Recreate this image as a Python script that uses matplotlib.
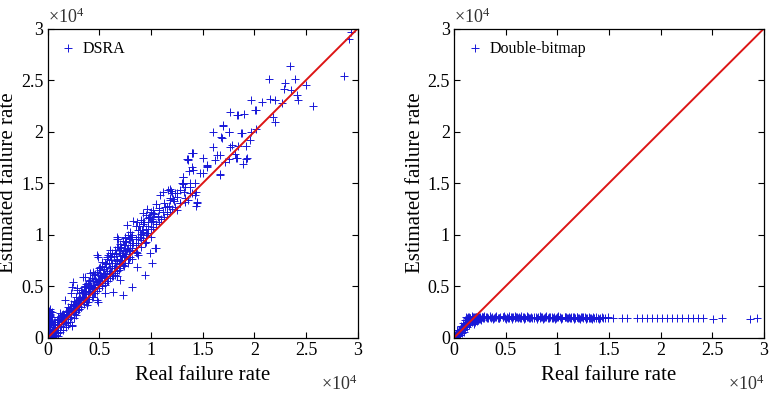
import matplotlib
matplotlib.use("Agg")
import matplotlib.pyplot as plt
from matplotlib.ticker import FuncFormatter

plt.rcParams['font.family'] = ['Liberation Serif', 'DejaVu Serif']
plt.rcParams['mathtext.fontset'] = 'custom'
plt.rcParams['mathtext.rm'] = 'Liberation Serif'
plt.rcParams['mathtext.it'] = 'Liberation Serif:italic'

SCALE = 1e4  # values below are in units of 10^4

# ---- DSRA panel (real, estimated), units of 1e4 ----
dsra_real = [
    2.935, 2.919, 2.871, 2.345, 2.139, 2.297, 2.390, 2.290, 2.355, 2.497, 2.413, 2.423, 2.571, 2.265,
    2.203, 2.152, 1.965, 2.010, 2.016, 1.765, 1.829, 1.903, 1.697, 1.755, 1.874, 1.965, 2.184, 2.203,
    1.597, 1.677, 1.603, 1.765, 1.842, 1.916, 1.668, 1.619, 1.716, 1.826, 1.752, 1.919, 1.890, 1.810,
    1.394, 1.352, 1.400, 1.506, 1.545, 1.503, 1.665, 1.368, 1.306, 1.381, 1.439, 1.397, 1.445, 1.435,
    1.323, 1.190, 1.119, 1.248, 1.210, 1.329, 1.355, 1.152, 1.081, 1.048, 0.965, 0.926, 0.829, 1.006,
    0.926, 0.894, 0.958, 1.048, 0.752, 0.668, 0.684, 0.752, 0.603, 0.571, 0.484, 0.668, 0.813, 0.861,
    0.506, 0.410, 0.345, 0.474, 0.668, 0.232, 0.223, 0.281, 0.345, 0.394, 0.232, 0.377, 0.248, 0.119,
    0.087, 0.055, 0.023,
    0.668, 0.748, 0.813, 0.894, 0.942, 0.990, 0.587, 0.474, 0.522, 0.619, 0.716, 0.780, 0.877, 0.861,
    0.442, 0.361, 0.539, 0.652, 0.700, 0.555, 0.635, 0.248, 0.281, 0.394, 0.458, 0.329, 0.168, 0.216,
    0.297, 0.394, 0.490, 0.555, 0.135, 0.232, 0.103, 0.071, 0.039, 0.022, 0.732, 0.813, 0.942, 1.006,
    1.394, 1.361, 1.539, 1.474, 1.426, 1.313, 1.297, 1.377, 1.168, 1.248, 1.184, 1.087, 1.136, 1.023,
    0.990, 0.861, 0.910, 0.765, 0.797, 0.684, 0.700, 0.603, 1.039, 1.281, 1.442, 1.426, 1.200, 1.071,
    0.926, 0.829, 1.248,
    2.071, 1.845, 2.016, 1.700, 1.758, 1.877, 1.684, 1.958, 1.781, 1.403, 1.361, 1.636, 1.829, 1.926,
    1.539, 1.410, 1.668, 1.313, 1.313, 1.184,
    0.005, 0.010, 0.005, 0.015, 0.005, 0.010, 0.020, 0.005, 0.012, 0.020, 0.005, 0.015, 0.030, 0.005,
    0.020, 0.040, 0.060, 0.080, 0.100, 0.120, 0.050, 0.070, 0.150, 0.180, 0.200, 0.030, 0.040, 0.060,
    0.090, 0.130, 0.160, 0.100, 0.140, 0.025, 0.035, 0.045,
    0.25, 0.27, 0.30, 0.32, 0.35, 0.37, 0.40, 0.42, 0.45, 0.47, 0.50, 0.52, 0.55, 0.57, 0.60, 0.62,
    0.65, 0.67, 0.70, 0.72, 0.75, 0.77, 0.80, 0.82, 0.85, 0.87, 0.90, 0.92, 0.95, 0.97, 1.00, 1.02,
    1.05, 1.07, 1.10, 1.12, 1.15, 1.17, 1.20, 1.22, 0.30, 0.38, 0.44, 0.53, 0.58, 0.63, 0.69, 0.74,
    0.79, 0.85, 0.18, 0.20, 0.22, 0.15, 0.26, 0.33, 0.36, 0.41, 0.46, 0.51, 0.56, 0.61, 0.66, 0.71,
    0.76, 0.81, 0.88, 0.93, 0.98, 1.03,
    # dense band, read as low / middle / high triplets
    0.05, 0.05, 0.05, 0.075, 0.075, 0.075, 0.10, 0.10, 0.10, 0.125, 0.125, 0.125,
    0.15, 0.15, 0.15, 0.175, 0.175, 0.175, 0.20, 0.20, 0.20, 0.225, 0.225, 0.225,
    0.25, 0.25, 0.25, 0.275, 0.275, 0.275, 0.30, 0.30, 0.30, 0.325, 0.325, 0.325,
    0.35, 0.35, 0.35, 0.375, 0.375, 0.375, 0.40, 0.40, 0.40, 0.425, 0.425, 0.425,
    0.45, 0.45, 0.45, 0.475, 0.475, 0.475, 0.50, 0.50, 0.50, 0.525, 0.525, 0.525,
    0.55, 0.55, 0.55, 0.575, 0.575, 0.575, 0.60, 0.60, 0.60, 0.625, 0.625, 0.625,
    0.65, 0.65, 0.65, 0.675, 0.675, 0.675, 0.70, 0.70, 0.70, 0.725, 0.725, 0.725,
    0.75, 0.75, 0.75, 0.775, 0.775, 0.775, 0.80, 0.80, 0.80, 0.85, 0.85, 0.85,
    0.90, 0.90, 0.90, 0.95, 0.95, 0.95, 1.00, 1.00, 1.00,
    # column at the origin
    0.003, 0.010, 0.018, 0.025, 0.003, 0.010, 0.018, 0.025,
    0.003, 0.010, 0.018, 0.025, 0.003, 0.010, 0.018, 0.025,
    0.003, 0.010, 0.018, 0.025, 0.003, 0.010, 0.018, 0.025,
    0.003, 0.010, 0.018, 0.025, 0.003, 0.010, 0.018, 0.025,
    # below the diagonal near the origin
    0.05, 0.08, 0.10, 0.12, 0.15, 0.18, 0.07, 0.20, 0.22, 0.25, 0.27,
    # dense band, second pass (pairs)
    0.06, 0.06, 0.09, 0.09, 0.11, 0.11, 0.14, 0.14, 0.16, 0.16, 0.19, 0.19,
    0.21, 0.21, 0.24, 0.24, 0.26, 0.26, 0.29, 0.29, 0.31, 0.31, 0.34, 0.34,
    0.36, 0.36, 0.39, 0.39, 0.41, 0.41, 0.44, 0.44, 0.46, 0.46, 0.49, 0.49,
    0.51, 0.51, 0.54, 0.54, 0.56, 0.56, 0.59, 0.59, 0.61, 0.61, 0.64, 0.64,
    0.66, 0.66, 0.69, 0.69, 0.71, 0.71, 0.74, 0.74, 0.76, 0.76, 0.79, 0.79,
    0.82, 0.82, 0.87, 0.87, 0.92, 0.92, 0.97, 0.97, 1.02, 1.02, 1.08, 1.08,
    1.13, 1.13, 1.18, 1.18, 1.23, 1.23, 1.28, 1.28, 1.33, 1.33, 1.38, 1.38,
]
dsra_est = [
    2.962, 2.903, 2.541, 2.638, 2.506, 2.467, 2.506, 2.418, 2.402, 2.451, 2.354, 2.305, 2.247, 2.279,
    2.305, 2.312, 2.305, 2.208, 2.027, 2.189, 2.160, 2.173, 2.059, 2.001, 1.982, 1.995, 2.144, 2.095,
    2.001, 1.950, 1.853, 1.853, 1.862, 1.859, 1.772, 1.720, 1.710, 1.746, 1.736, 1.736, 1.688, 1.785,
    1.788, 1.730, 1.659, 1.743, 1.668, 1.600, 1.587, 1.617, 1.487, 1.465, 1.410, 1.406, 1.322, 1.280,
    1.410, 1.426, 1.410, 1.368, 1.342, 1.319, 1.335, 1.271, 1.238, 1.296, 1.254, 1.206, 1.135, 1.157,
    1.125, 1.044, 1.012, 0.867, 0.980, 0.963, 0.883, 0.850, 0.850, 0.786, 0.786, 0.753, 0.769, 0.818,
    0.689, 0.624, 0.592, 0.365, 0.598, 0.495, 0.430, 0.462, 0.430, 0.527, 0.113, 0.317, 0.268, 0.236,
    0.171, 0.107, 0.074,
    0.980, 0.899, 0.850, 0.980, 0.915, 0.818, 0.802, 0.802, 0.737, 0.721, 0.754, 0.721, 0.802, 0.689,
    0.641, 0.592, 0.624, 0.608, 0.560, 0.512, 0.447, 0.544, 0.479, 0.479, 0.430, 0.398, 0.365, 0.285,
    0.268, 0.349, 0.349, 0.430, 0.220, 0.124, 0.171, 0.124, 0.074, 0.026, 0.414, 0.495, 0.608, 0.721,
    1.794, 1.723, 1.675, 1.594, 1.497, 1.562, 1.497, 1.465, 1.432, 1.400, 1.335, 1.384, 1.271, 1.238,
    1.174, 1.125, 1.044, 1.093, 0.980, 0.963, 0.850, 0.818, 0.867, 1.303, 1.303, 1.384, 1.400, 1.174,
    0.996, 0.915, 1.238,
    2.289, 2.157, 2.205, 2.063, 1.998, 1.982, 1.934, 1.917, 1.869, 1.795, 1.731, 1.772, 1.740, 1.740,
    1.659, 1.627, 1.578, 1.562, 1.497, 1.448,
    0.280, 0.260, 0.240, 0.220, 0.200, 0.180, 0.160, 0.140, 0.120, 0.100, 0.080, 0.060, 0.050, 0.040,
    0.020, 0.010, 0.030, 0.020, 0.050, 0.080, 0.000, 0.060, 0.100, 0.140, 0.180, 0.130, 0.200, 0.150,
    0.120, 0.170, 0.200, 0.200, 0.220, 0.090, 0.160, 0.250,
    0.32, 0.35, 0.38, 0.30, 0.40, 0.45, 0.42, 0.50, 0.47, 0.55, 0.52, 0.60, 0.58, 0.65, 0.62, 0.70,
    0.68, 0.74, 0.72, 0.80, 0.78, 0.86, 0.84, 0.92, 0.90, 0.98, 0.95, 1.03, 1.00, 1.08, 1.06, 1.13,
    1.10, 1.18, 1.15, 1.22, 1.20, 1.28, 1.25, 1.33, 0.28, 0.35, 0.40, 0.50, 0.55, 0.60, 0.66, 0.70,
    0.76, 0.83, 0.22, 0.26, 0.20, 0.16, 0.25, 0.44, 0.50, 0.56, 0.62, 0.66, 0.72, 0.78, 0.82, 0.88,
    0.94, 0.98, 1.08, 1.12, 1.17, 1.20,
    0.04, 0.08, 0.13, 0.06, 0.10, 0.15, 0.08, 0.13, 0.18, 0.11, 0.15, 0.21,
    0.13, 0.18, 0.23, 0.15, 0.21, 0.26, 0.18, 0.23, 0.30, 0.20, 0.26, 0.33,
    0.23, 0.29, 0.36, 0.25, 0.31, 0.40, 0.28, 0.34, 0.43, 0.30, 0.37, 0.46,
    0.33, 0.39, 0.49, 0.35, 0.42, 0.52, 0.38, 0.45, 0.55, 0.40, 0.48, 0.58,
    0.43, 0.51, 0.61, 0.45, 0.54, 0.64, 0.48, 0.56, 0.68, 0.50, 0.59, 0.70,
    0.53, 0.62, 0.73, 0.55, 0.65, 0.76, 0.58, 0.68, 0.79, 0.60, 0.70, 0.82,
    0.63, 0.73, 0.85, 0.65, 0.76, 0.88, 0.68, 0.79, 0.91, 0.71, 0.82, 0.94,
    0.73, 0.84, 0.97, 0.76, 0.87, 1.00, 0.78, 0.90, 1.03, 0.83, 0.96, 1.08,
    0.88, 1.01, 1.14, 0.93, 1.06, 1.19, 0.98, 1.12, 1.22,
    0.27, 0.25, 0.23, 0.21, 0.19, 0.17, 0.15, 0.13,
    0.11, 0.09, 0.07, 0.05, 0.03, 0.01, 0.26, 0.22,
    0.18, 0.14, 0.10, 0.06, 0.02, 0.24, 0.20, 0.16,
    0.12, 0.08, 0.04, 0.28, 0.00, 0.15, 0.05, 0.20,
    0.01, 0.03, 0.02, 0.06, 0.08, 0.10, 0.00, 0.12, 0.15, 0.19, 0.22,
    0.07, 0.10, 0.10, 0.13, 0.13, 0.15, 0.16, 0.19, 0.18, 0.21, 0.21, 0.25,
    0.23, 0.27, 0.26, 0.31, 0.28, 0.33, 0.31, 0.37, 0.34, 0.39, 0.37, 0.43,
    0.39, 0.45, 0.42, 0.49, 0.44, 0.51, 0.47, 0.55, 0.49, 0.57, 0.52, 0.61,
    0.55, 0.63, 0.58, 0.67, 0.60, 0.69, 0.63, 0.73, 0.65, 0.75, 0.68, 0.79,
    0.70, 0.81, 0.73, 0.85, 0.75, 0.87, 0.79, 0.90, 0.81, 0.93, 0.84, 0.96,
    0.87, 1.00, 0.92, 1.05, 0.97, 1.10, 1.02, 1.16, 1.07, 1.21, 1.12, 1.26,
    1.17, 1.31, 1.22, 1.36, 1.27, 1.40, 1.31, 1.43, 1.36, 1.46, 1.40, 1.50,
]

# ---- Double-bitmap panel (real, estimated), units of 1e4 ----
dbm_real = [
    # ramp near the origin
    0.005, 0.01, 0.02, 0.02, 0.03, 0.04, 0.04, 0.05,
    0.06, 0.06, 0.07, 0.08, 0.08, 0.09, 0.10, 0.10,
    0.11, 0.12, 0.12, 0.13, 0.14, 0.14, 0.15, 0.16,
    0.17, 0.18, 0.19, 0.20, 0.21, 0.22, 0.23, 0.24,
    0.25, 0.26, 0.28, 0.005, 0.01, 0.03, 0.07, 0.09,
    0.11, 0.13,
    0.02, 0.03, 0.04, 0.05, 0.06, 0.07, 0.08, 0.09,
    0.10, 0.11, 0.12, 0.13, 0.15, 0.16, 0.17, 0.18,
    0.19, 0.20, 0.21, 0.22, 0.23, 0.24, 0.25, 0.27,
    # saturated plateau (dense)
    0.15, 0.17, 0.19, 0.21, 0.23, 0.25, 0.27, 0.29,
    0.31, 0.33, 0.35, 0.37, 0.39, 0.41, 0.43, 0.45,
    0.47, 0.49, 0.51, 0.53, 0.55, 0.57, 0.59, 0.61,
    0.63, 0.65, 0.67, 0.69, 0.71, 0.73, 0.75, 0.77,
    0.79, 0.81, 0.83, 0.85, 0.87, 0.89, 0.91, 0.93,
    0.95, 0.97, 0.99, 1.01, 1.03, 1.05, 1.07, 1.09,
    1.11, 1.13, 1.15, 1.17, 1.19, 1.21, 1.23, 1.25,
    1.27, 1.29, 1.31, 1.33, 1.35, 1.37, 1.39, 1.41,
    0.16, 0.20, 0.24, 0.28, 0.32, 0.36, 0.40, 0.44,
    0.48, 0.52, 0.56, 0.60, 0.64, 0.68, 0.72, 0.76,
    0.80, 0.84, 0.88, 0.92, 0.96, 1.00, 1.04, 1.08,
    1.12, 1.16, 1.20, 1.24, 1.28, 1.32, 1.36,
    0.14, 0.17, 0.20, 0.23, 0.26, 0.29, 0.32, 0.35,
    0.38, 0.41, 0.44, 0.47, 0.50, 0.53, 0.56, 0.59,
    0.62, 0.65, 0.68, 0.71, 0.74, 0.77, 0.80, 0.83,
    0.86, 0.89, 0.92, 0.95, 0.98, 1.01, 1.04, 1.07,
    1.10, 1.13, 1.16, 1.19, 1.22, 1.25, 1.28, 1.31,
    1.34, 1.37, 1.40, 1.43, 1.46, 1.49,
    # sparse tail
    1.445, 1.493, 1.542, 1.623, 1.671, 1.768, 1.817, 1.865,
    1.913, 1.962, 2.010, 2.058, 2.107, 2.155, 2.203, 2.268,
    2.316, 2.364, 2.413, 2.510, 2.590, 2.865, 2.929,
]
dbm_est = [
    0.005, 0.02, 0.01, 0.04, 0.03, 0.06, 0.02, 0.05,
    0.08, 0.03, 0.06, 0.10, 0.05, 0.08, 0.12, 0.06,
    0.09, 0.14, 0.20, 0.10, 0.17, 0.20, 0.12, 0.19,
    0.15, 0.20, 0.13, 0.17, 0.20, 0.16, 0.19, 0.18,
    0.20, 0.17, 0.19, 0.02, 0.00, 0.08, 0.11, 0.14,
    0.17, 0.19,
    0.03, 0.05, 0.04, 0.07, 0.06, 0.09, 0.08, 0.11,
    0.10, 0.13, 0.11, 0.15, 0.16, 0.14, 0.18, 0.16,
    0.18, 0.15, 0.17, 0.19, 0.17, 0.20, 0.18, 0.20,
    0.200, 0.193, 0.205, 0.197, 0.202, 0.190, 0.204, 0.196,
    0.201, 0.192, 0.206, 0.198, 0.194, 0.203, 0.191, 0.200,
    0.205, 0.195, 0.199, 0.192, 0.204, 0.197, 0.190, 0.202,
    0.206, 0.194, 0.199, 0.191, 0.203, 0.196, 0.200, 0.193,
    0.205, 0.198, 0.190, 0.201, 0.195, 0.204, 0.192, 0.199,
    0.196, 0.202, 0.190, 0.197, 0.203, 0.194, 0.199, 0.191,
    0.201, 0.195, 0.198, 0.192, 0.200, 0.194, 0.197, 0.191,
    0.199, 0.193, 0.196, 0.190, 0.198, 0.194, 0.195, 0.192,
    0.196, 0.203, 0.191, 0.199, 0.205, 0.193, 0.201, 0.196,
    0.207, 0.190, 0.198, 0.204, 0.193, 0.200, 0.206, 0.195,
    0.191, 0.203, 0.197, 0.201, 0.192, 0.199, 0.195, 0.202,
    0.190, 0.197, 0.193, 0.199, 0.191, 0.196, 0.193,
    0.186, 0.209, 0.188, 0.208, 0.187, 0.210, 0.189, 0.207,
    0.185, 0.209, 0.188, 0.206, 0.187, 0.210, 0.186, 0.208,
    0.189, 0.207, 0.185, 0.209, 0.188, 0.206, 0.187, 0.208,
    0.186, 0.209, 0.189, 0.205, 0.187, 0.207, 0.185, 0.206,
    0.188, 0.205, 0.186, 0.204, 0.187, 0.203, 0.186, 0.202,
    0.187, 0.201, 0.186, 0.200, 0.188, 0.199,
    0.193, 0.190, 0.195, 0.192, 0.189, 0.194, 0.191, 0.188,
    0.193, 0.190, 0.192, 0.189, 0.191, 0.193, 0.190, 0.188,
    0.192, 0.190, 0.189, 0.187, 0.190, 0.186, 0.188,
]

tick_vals = [0, 0.5, 1, 1.5, 2, 2.5, 3]
xlabel = "Real failure rate"
ylabel = "Estimated failure rate"
panels = [("DSRA", dsra_real, dsra_est), ("Double-bitmap", dbm_real, dbm_est)]

fig = plt.figure(figsize=(7.76, 3.96), dpi=100)
positions = [[0.0615, 0.147, 0.3995, 0.781], [0.585, 0.147, 0.3995, 0.781]]
fmt = FuncFormatter(lambda v, p: ("%g" % (v / SCALE)))

for pos, (name, xs, ys) in zip(positions, panels):
    ax = fig.add_axes(pos)
    ax.plot([v * SCALE for v in xs], [v * SCALE for v in ys], linestyle='none', marker='+',
            color='#1818d8', markersize=6, markeredgewidth=0.7, label=name)
    ax.plot([0, 3 * SCALE], [0, 3 * SCALE], color='#dd1515', linewidth=1.4)
    ax.set_xlim(0, 3 * SCALE)
    ax.set_ylim(0, 3 * SCALE)
    ax.set_xticks([t * SCALE for t in tick_vals])
    ax.set_yticks([t * SCALE for t in tick_vals])
    ax.xaxis.set_major_formatter(fmt)
    ax.yaxis.set_major_formatter(fmt)
    ax.tick_params(direction='in', top=True, right=True, length=4, width=0.8,
                   labelsize=13, pad=3)
    for s in ax.spines.values():
        s.set_linewidth(0.9)
    ax.set_xlabel(xlabel, fontsize=15, labelpad=5)
    ax.set_ylabel(ylabel, fontsize=15, labelpad=2)
    ax.legend(loc='upper left', frameon=False, fontsize=11.5, handlelength=1.0,
              handletextpad=0.4, borderaxespad=0.4, markerscale=0.85)
    ax.text(0.0, 1.005, r'$\times10^{4}$', transform=ax.transAxes, ha='left', va='bottom',
            fontsize=13, color='#333333')
    ax.text(1.0, -0.12, r'$\times10^{4}$', transform=ax.transAxes, ha='right', va='top',
            fontsize=13, color='#333333')

fig.savefig("out.png", dpi=100)
